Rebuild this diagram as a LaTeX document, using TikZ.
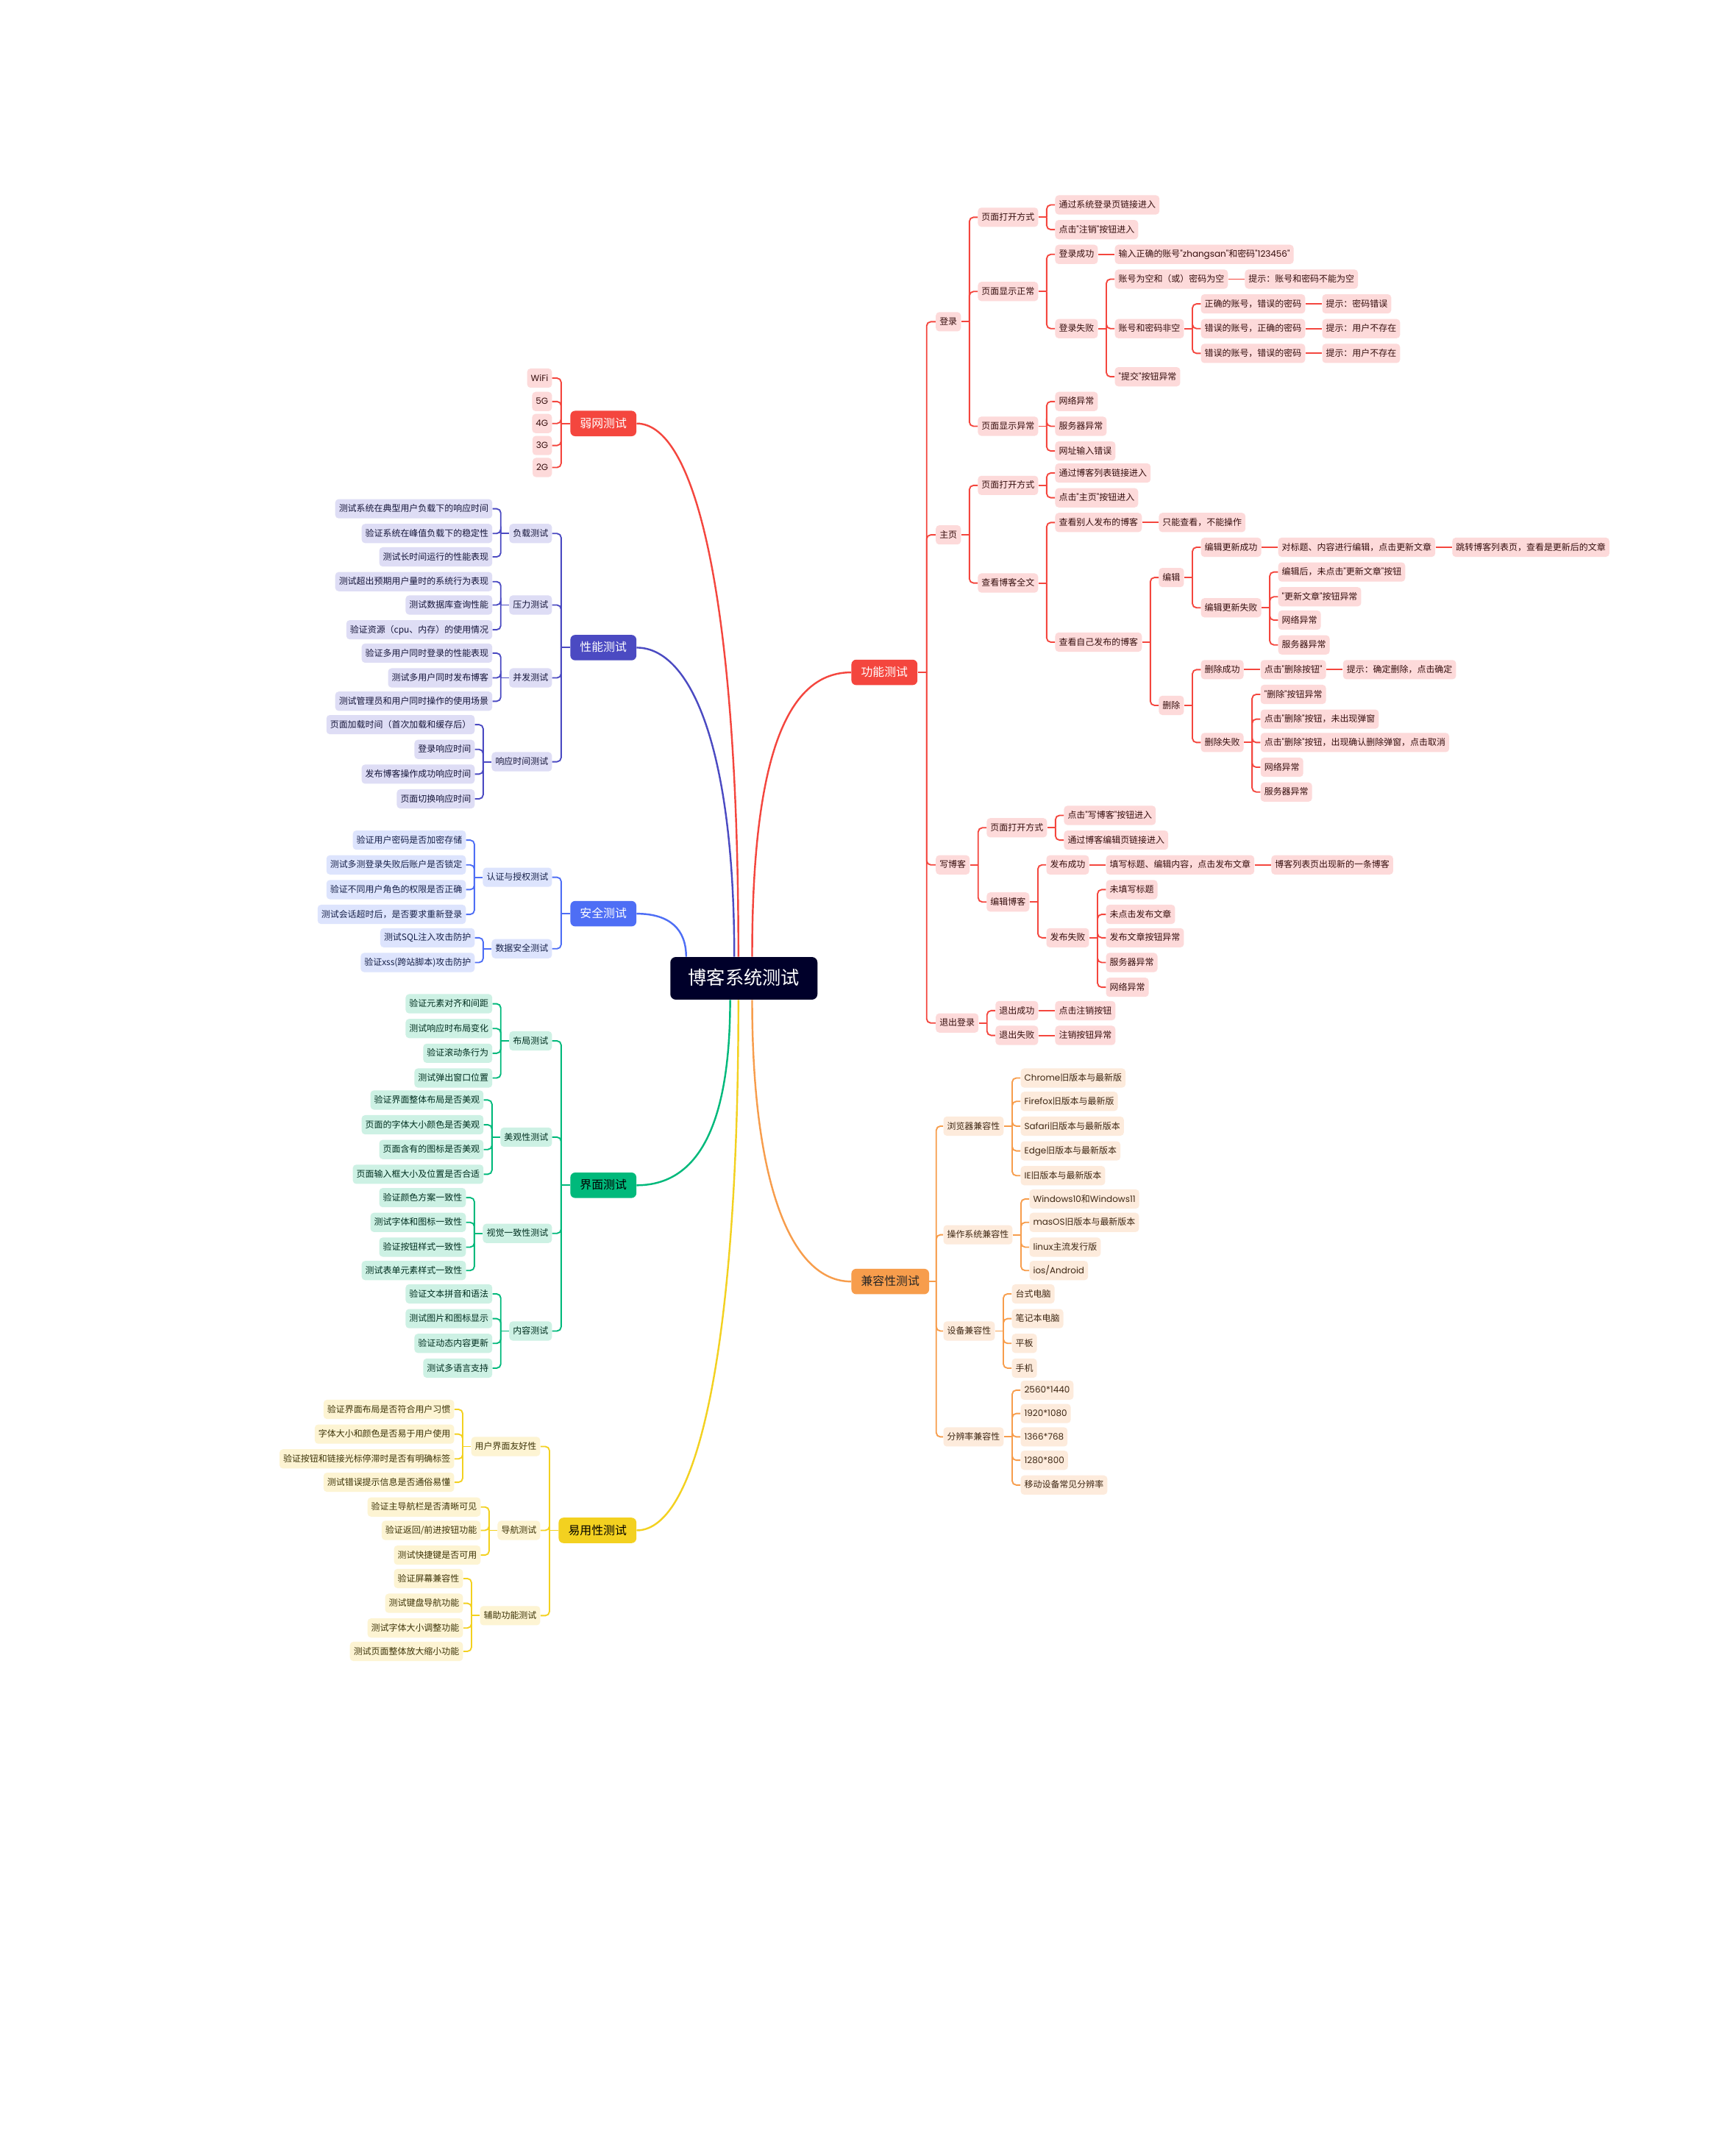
\documentclass[tikz,border=0pt]{standalone}
\usepackage{fontspec}
\setmainfont{Noto Sans CJK SC}
\newfontfamily\latf{Poppins}
\newcommand\la[1]{{\latf #1}}
\newcommand\q{{\latf "}}
\definecolor{cRed}{HTML}{F4463E}
\definecolor{cRedL}{HTML}{FDDADA}
\definecolor{cInd}{HTML}{4B4AC2}
\definecolor{cIndL}{HTML}{DEDDF5}
\definecolor{cBlu}{HTML}{4E6EF5}
\definecolor{cBluL}{HTML}{DDE4FD}
\definecolor{cGrn}{HTML}{00B97B}
\definecolor{cGrnL}{HTML}{CDF1E4}
\definecolor{cYel}{HTML}{F3D120}
\definecolor{cYelL}{HTML}{FDF4D3}
\definecolor{cOra}{HTML}{F79D4C}
\definecolor{cOraL}{HTML}{FDEBDC}
\definecolor{cRoot}{HTML}{00002A}
\colorlet{leafc}{cRedL}
\colorlet{linec}{cRed}
\colorlet{leaftext}{black}
\tikzset{
  lf/.style={fill=leafc, rounded corners=2.5pt, inner xsep=2.7pt, inner ysep=0pt,
    minimum height=14pt, text height=5.4pt, text depth=1pt,
    font=\fontsize{6.4}{7}\selectfont, text=leaftext},
  lone/.style={fill=#1, rounded corners=3.5pt, inner xsep=7pt, inner ysep=0pt,
    minimum height=18.5pt, text height=7.2pt, text depth=1.3pt,
    font=\fontsize{8.5}{9}\selectfont},
  cn/.style={draw=linec, line width=1pt, rounded corners=3pt},
  mainln/.style={draw=#1, line width=1.3pt},
}
\newcommand\kidsR[3]{%
  \coordinate (kTk) at ([xshift=#2]#1.east);
  \coordinate (kCk) at ([xshift=2*#2]#1.east);
  \draw[cn] (#1.east) -- (kTk);
  \foreach \n/\y/\tx in {#3}{%
    \coordinate (kYy) at (0,\y);
    \node[lf,anchor=west] (\n) at (kCk |- kYy) {\tx};
    \draw[cn] (kTk) |- (\n.west);
  }%
}
\newcommand\kidsL[3]{%
  \coordinate (kTk) at ([xshift=-#2]#1.west);
  \coordinate (kCk) at ([xshift=-2*#2]#1.west);
  \draw[cn] (#1.west) -- (kTk);
  \foreach \n/\y/\tx in {#3}{%
    \coordinate (kYy) at (0,\y);
    \node[lf,anchor=east] (\n) at (kCk |- kYy) {\tx};
    \draw[cn] (kTk) |- (\n.east);
  }%
}
\newcommand\oneR[3]{%
  \node[lf,anchor=west] (#2) at ([xshift=12pt]#1.east) {#3};
  \draw[cn] (#1.east) -- (#2.west);
}
\begin{document}
\begin{tikzpicture}[x=1pt,y=-1pt]
\useasboundingbox[fill=white] (0,0) rectangle (1262,1568);

\node[fill=cRoot, rounded corners=4pt, text=white, font=\fontsize{13.5}{15}\selectfont,
  minimum height=31pt, inner xsep=13pt, inner ysep=0pt, text height=11.5pt, text depth=2pt] (root) at (541,711.5) {博客系统测试};

\node[lone=cRed, text=white, anchor=east] (ruo) at (463,308) {弱网测试};
\node[lone=cInd, text=white, anchor=east] (xn) at (463,471) {性能测试};
\node[lone=cBlu, text=white, anchor=east] (aq) at (463,664.5) {安全测试};
\node[lone=cGrn, text=black, anchor=east] (jm) at (463,862) {界面测试};
\node[lone=cYel, text=black, anchor=east] (ey) at (463,1113) {易用性测试};
\node[lone=cRed, text=white, anchor=west] (gn) at (619,489) {功能测试};
\node[lone=cOra, text=black!85, anchor=west] (jr) at (619,932) {兼容性测试};

\draw[mainln=cRed] (ruo.east) .. controls +(45,0) and +(0,-250) .. ([xshift=-4pt]root.north);
\draw[mainln=cInd] (xn.east) .. controls +(40,0) and +(0,-150) .. ([xshift=-7pt]root.north);
\draw[mainln=cBlu] (aq.east) .. controls +(24,0) and +(0,-20) .. ([xshift=-42pt]root.north);
\draw[mainln=cRed] (gn.west) .. controls +(-45,0) and +(0,-150) .. ([xshift=6pt]root.north);
\draw[mainln=cGrn] (jm.east) .. controls +(40,0) and +(0,100) .. ([xshift=-10pt]root.south);
\draw[mainln=cYel] (ey.east) .. controls +(45,0) and +(0,250) .. ([xshift=-4pt]root.south);
\draw[mainln=cOra] (jr.west) .. controls +(-45,0) and +(0,130) .. ([xshift=6pt]root.south);

% ---------------- 功能测试
\begin{scope}
\colorlet{leafc}{cRedL}\colorlet{linec}{cRed}\colorlet{leaftext}{cRed!22!black}
\kidsR{gn}{6.5pt}{dl/234/登录, zy/389/主页, xb/629/写博客, tc/744/退出登录}
\kidsR{dl}{6pt}{dla/158/页面打开方式, dlb/212/页面显示正常, dlc/310/页面显示异常}
\kidsR{dla}{6pt}{dla1/149/通过系统登录页链接进入, dla2/167/点击\q 注销\q 按钮进入}
\kidsR{dlb}{6pt}{cg/185/登录成功, sb/239/登录失败}
\oneR{cg}{cg1}{输入正确的账号\q\la{zhangsan}\q 和密码\q\la{123456}\q}
\kidsR{sb}{6pt}{sb1/203/账号为空和（或）密码为空, sb2/239/账号和密码非空, sb3/274/\q 提交\q 按钮异常}
\oneR{sb1}{sb1a}{提示：账号和密码不能为空}
\kidsR{sb2}{6pt}{e1/221/正确的账号，错误的密码, e2/239/错误的账号，正确的密码, e3/257/错误的账号，错误的密码}
\oneR{e1}{e1a}{提示：密码错误}
\oneR{e2}{e2a}{提示：用户不存在}
\oneR{e3}{e3a}{提示：用户不存在}
\kidsR{dlc}{6pt}{dc1/292/网络异常, dc2/310/服务器异常, dc3/328/网址输入错误}
\kidsR{zy}{6pt}{zya/353/页面打开方式, zyb/424/查看博客全文}
\kidsR{zya}{6pt}{zya1/344/通过博客列表链接进入, zya2/362/点击\q 主页\q 按钮进入}
\kidsR{zyb}{6pt}{kb1/380/查看别人发布的博客, kb2/467/查看自己发布的博客}
\oneR{kb1}{kb1a}{只能查看，不能操作}
\kidsR{kb2}{6pt}{bj/420/编辑, sc/513/删除}
\kidsR{bj}{6pt}{bja/398/编辑更新成功, bjb/442/编辑更新失败}
\oneR{bja}{bja1}{对标题、内容进行编辑，点击更新文章}
\oneR{bja1}{bja2}{跳转博客列表页，查看是更新后的文章}
\kidsR{bjb}{6pt}{bjb1/416/编辑后，未点击\q 更新文章\q 按钮, bjb2/434/\q 更新文章\q 按钮异常, bjb3/451/网络异常, bjb4/469/服务器异常}
\kidsR{sc}{6pt}{sca/487/删除成功, scb/540/删除失败}
\oneR{sca}{sca1}{点击\q 删除按钮\q}
\oneR{sca1}{sca2}{提示：确定删除，点击确定}
\kidsR{scb}{6pt}{scb1/505/\q 删除\q 按钮异常, scb2/523/点击\q 删除\q 按钮，未出现弹窗, scb3/540/点击\q 删除\q 按钮，出现确认删除弹窗，点击取消, scb4/558/网络异常, scb5/576/服务器异常}
\kidsR{xb}{6pt}{xba/602/页面打开方式, xbb/656/编辑博客}
\kidsR{xba}{6pt}{xba1/593/点击\q 写博客\q 按钮进入, xba2/611/通过博客编辑页链接进入}
\kidsR{xbb}{6pt}{fb1/629/发布成功, fb2/682/发布失败}
\oneR{fb1}{fb1a}{填写标题、编辑内容，点击发布文章}
\oneR{fb1a}{fb1b}{博客列表页出现新的一条博客}
\kidsR{fb2}{6pt}{f1/647/未填写标题, f2/665/未点击发布文章, f3/682/发布文章按钮异常, f4/700/服务器异常, f5/718/网络异常}
\kidsR{tc}{6pt}{tca/735/退出成功, tcb/753/退出失败}
\oneR{tca}{tca1}{点击注销按钮}
\oneR{tcb}{tcb1}{注销按钮异常}
\end{scope}

% ---------------- 兼容性测试
\begin{scope}
\colorlet{leafc}{cOraL}\colorlet{linec}{cOra}\colorlet{leaftext}{cOra!25!black}
\kidsR{jr}{5pt}{ll1/819/浏览器兼容性, ll2/898/操作系统兼容性, ll3/968/设备兼容性, ll4/1045/分辨率兼容性}
\kidsR{ll1}{6pt}{b1/784/\la{Chrome}旧版本与最新版, b2/801/\la{Firefox}旧版本与最新版, b3/819/\la{Safari}旧版本与最新版本, b4/837/\la{Edge}旧版本与最新版本, b5/855/\la{IE}旧版本与最新版本}
\kidsR{ll2}{6pt}{o1/872/\la{Windows10}和\la{Windows11}, o2/889/\la{masOS}旧版本与最新版本, o3/907/\la{linux}主流发行版, o4/924/{\la{ios/Android}}}
\kidsR{ll3}{6pt}{d1/941/台式电脑, d2/959/笔记本电脑, d3/977/平板, d4/995/手机}
\kidsR{ll4}{6pt}{r1/1011/\la{2560*1440}, r2/1028/\la{1920*1080}, r3/1045/\la{1366*768}, r4/1062/\la{1280*800}, r5/1080/移动设备常见分辨率}
\end{scope}

% ---------------- 弱网测试
\begin{scope}
\colorlet{leafc}{cRedL}\colorlet{linec}{cRed}\colorlet{leaftext}{cRed!22!black}
\kidsL{ruo}{6.5pt}{w1/275/\la{WiFi}, w2/292/\la{5G}, w3/308/\la{4G}, w4/324/\la{3G}, w5/340/\la{2G}}
\end{scope}

% ---------------- 性能测试
\begin{scope}
\colorlet{leafc}{cIndL}\colorlet{linec}{cInd}\colorlet{leaftext}{cInd!30!black}
\kidsL{xn}{6.5pt}{p1/388/负载测试, p2/440/压力测试, p3/493/并发测试, p4/554/响应时间测试}
\kidsL{p1}{6pt}{p11/370/测试系统在典型用户负载下的响应时间, p12/388/验证系统在峰值负载下的稳定性, p13/405/测试长时间运行的性能表现}
\kidsL{p2}{6pt}{p21/423/测试超出预期用户量时的系统行为表现, p22/440/测试数据库查询性能, p23/458/验证资源（cpu、内存）的使用情况}
\kidsL{p3}{6pt}{p31/475/验证多用户同时登录的性能表现, p32/493/测试多用户同时发布博客, p33/510/测试管理员和用户同时操作的使用场景}
\kidsL{p4}{6pt}{p41/527/页面加载时间（首次加载和缓存后）, p42/545/登录响应时间, p43/563/发布博客操作成功响应时间, p44/581/页面切换响应时间}
\end{scope}

% ---------------- 安全测试
\begin{scope}
\colorlet{leafc}{cBluL}\colorlet{linec}{cBlu}\colorlet{leaftext}{cBlu!30!black}
\kidsL{aq}{6.5pt}{s1/638/认证与授权测试, s2/690/数据安全测试}
\kidsL{s1}{6pt}{s11/611/验证用户密码是否加密存储, s12/629/测试多测登录失败后账户是否锁定, s13/647/验证不同用户角色的权限是否正确, s14/665/测试会话超时后，是否要求重新登录}
\kidsL{s2}{6pt}{s21/682/测试SQL注入攻击防护, s22/700/验证xss(跨站脚本)攻击防护}
\end{scope}

% ---------------- 界面测试
\begin{scope}
\colorlet{leafc}{cGrnL}\colorlet{linec}{cGrn}\colorlet{leaftext}{cGrn!25!black}
\kidsL{jm}{6.5pt}{j1/757/布局测试, j2/827/美观性测试, j3/897/视觉一致性测试, j4/968/内容测试}
\kidsL{j1}{6pt}{j11/730/验证元素对齐和间距, j12/748/测试响应时布局变化, j13/766/验证滚动条行为, j14/784/测试弹出窗口位置}
\kidsL{j2}{6pt}{j21/800/验证界面整体布局是否美观, j22/818/页面的字体大小颜色是否美观, j23/836/页面含有的图标是否美观, j24/854/页面输入框大小及位置是否合适}
\kidsL{j3}{6pt}{j31/871/验证颜色方案一致性, j32/889/测试字体和图标一致性, j33/907/验证按钮样式一致性, j34/924/测试表单元素样式一致性}
\kidsL{j4}{6pt}{j41/941/验证文本拼音和语法, j42/959/测试图片和图标显示, j43/977/验证动态内容更新, j44/995/测试多语言支持}
\end{scope}

% ---------------- 易用性测试
\begin{scope}
\colorlet{leafc}{cYelL}\colorlet{linec}{cYel}\colorlet{leaftext}{cYel!25!black}
\kidsL{ey}{6.5pt}{u1/1052/用户界面友好性, u2/1113/导航测试, u3/1175/辅助功能测试}
\kidsL{u1}{6pt}{u11/1025/验证界面布局是否符合用户习惯, u12/1043/字体大小和颜色是否易于用户使用, u13/1061/验证按钮和链接光标停滞时是否有明确标签, u14/1078/测试错误提示信息是否通俗易懂}
\kidsL{u2}{6pt}{u21/1096/验证主导航栏是否清晰可见, u22/1113/{验证返回/前进按钮功能}, u23/1131/测试快捷键是否可用}
\kidsL{u3}{6pt}{u31/1148/验证屏幕兼容性, u32/1166/测试键盘导航功能, u33/1184/测试字体大小调整功能, u34/1201/测试页面整体放大缩小功能}
\end{scope}
\end{tikzpicture}
\end{document}
